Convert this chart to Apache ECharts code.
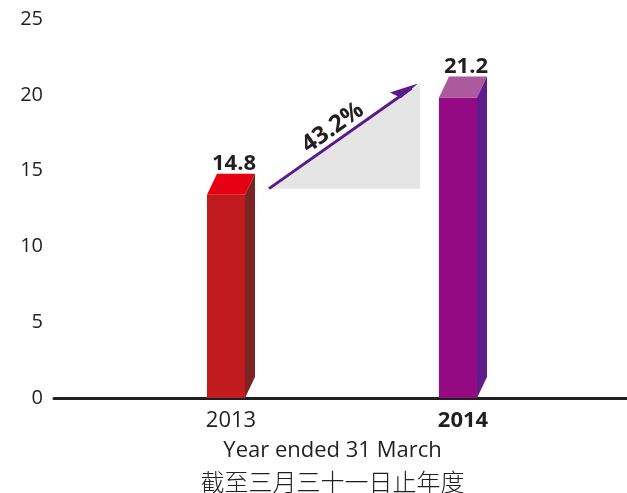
<!DOCTYPE html>
<html>
<head>
<meta charset="utf-8">
<script src="https://cdn.jsdelivr.net/npm/echarts@6/dist/echarts.min.js"></script>
<style>
  html, body { margin: 0; padding: 0; background: #fff; }
  #chart { width: 627px; height: 493px; }
</style>
</head>
<body>
<div id="chart"></div>
<script>
// 数据
const years = [2013, 2014];
const values = [14.8, 21.2];
const yTicks = [0, 5, 10, 15, 20, 25];

// 每根柱子的颜色：正面 / 顶面 / 侧面
const barColors = [
  { front: "#c11b20", top: "#e50012", side: "#7a2523" },
  { front: "#930a82", top: "#ac5a9e", side: "#5f1d8c" }
];

const textColor = "#231f20";
const DX = 10;  // 立体深度（水平）
const DY = 21;  // 立体深度（垂直）

const myChart = echarts.init(document.getElementById("chart"));

function render3DBar(params, api) {
  const i = params.dataIndex;
  const c = barColors[i];
  const top = api.coord([api.value(0), api.value(1)]);
  const base = api.coord([api.value(0), 0]);
  const xl = top[0] - 24;
  const xr = top[0] + 14;
  const ft = top[1] + DY; // 正面顶部
  const y0 = base[1];
  return {
    type: "group",
    children: [
      {
        type: "polygon",
        shape: { points: [[xl, y0], [xr, y0], [xr, ft], [xl, ft]] },
        style: { fill: c.front }
      },
      {
        type: "polygon",
        shape: { points: [[xl, ft], [xr, ft], [xr + DX, ft - DY], [xl + DX, ft - DY]] },
        style: { fill: c.top }
      },
      {
        type: "polygon",
        shape: { points: [[xr, y0], [xr, ft], [xr + DX, ft - DY], [xr + DX, y0 - DY]] },
        style: { fill: c.side }
      },
      {
        type: "text",
        style: {
          text: values[i].toFixed(1),
          x: top[0] + 3,
          y: top[1] - 10,
          align: "center",
          verticalAlign: "middle",
          font: "bold 22px 'Open Sans'",
          fill: textColor
        }
      }
    ]
  };
}

function renderGrowth(params, api) {
  const p0 = api.coord([years[0], values[0]]);
  const p1 = api.coord([years[1], values[1]]);
  const start = [p0[0] + 38, p0[1] + DY - 6];
  const end = [p1[0] - 45, p1[1] + DY - 14];
  const dx = end[0] - start[0];
  const dy = end[1] - start[1];
  const len = Math.sqrt(dx * dx + dy * dy);
  const u = [dx / len, dy / len];
  const n = [u[1], -u[0]];
  const head = [
    end,
    [end[0] - 28 * u[0] + 9 * n[0], end[1] - 28 * u[1] + 9 * n[1]],
    [end[0] - 22 * u[0] - 2 * n[0], end[1] - 22 * u[1] - 2 * n[1]]
  ];
  const mid = [(start[0] + end[0]) / 2, (start[1] + end[1]) / 2];
  const pct = ((values[1] / values[0] - 1) * 100).toFixed(1) + "%";
  return {
    type: "group",
    children: [
      {
        type: "polygon",
        shape: { points: [start, [end[0] + 2, start[1]], [end[0] + 2, end[1]]] },
        style: { fill: "#e5e5e5" }
      },
      {
        type: "line",
        shape: { x1: start[0], y1: start[1], x2: end[0] - 8 * u[0], y2: end[1] - 8 * u[1] },
        style: { stroke: "#5b1a8c", lineWidth: 3 }
      },
      {
        type: "polygon",
        shape: { points: head },
        style: { fill: "#5b1a8c" }
      },
      {
        type: "text",
        x: mid[0] - 4 * u[0] + 1 * n[0],
        y: mid[1] - 4 * u[1] + 1 * n[1],
        rotation: Math.atan2(-dy, dx),
        style: {
          text: pct,
          x: 0,
          y: 0,
          align: "center",
          verticalAlign: "bottom",
          font: "bold 24px 'Open Sans'",
          fill: textColor
        }
      }
    ]
  };
}

const option = {
  animation: false,
  grid: { left: 54, right: 0, top: 19, bottom: 95, outerBoundsMode: "none" },
  xAxis: {
    type: "value",
    min: 2012.237,
    max: 2014.707,
    splitLine: { show: false },
    axisTick: { show: false },
    axisLine: { show: true, lineStyle: { color: textColor, width: 3 } },
    axisLabel: {
      customValues: years,
      margin: 12,
      fontFamily: "Open Sans",
      fontSize: 22,
      color: textColor,
      formatter: function (v) {
        return v === years[1] ? "{b|" + v + "}" : String(v);
      },
      rich: { b: { fontWeight: "bold", fontSize: 22, fontFamily: "Open Sans", color: textColor } }
    },
    name: "{en|Year ended 31 March}\n{zh|截至三月三十一日止年度}",
    nameLocation: "middle",
    nameGap: 37,
    nameTextStyle: {
      padding: [0, 16, 0, 0],
      rich: {
        en: { fontFamily: "Open Sans", fontSize: 22, color: textColor, lineHeight: 31 },
        zh: { fontFamily: "Noto Sans CJK SC", fontSize: 24, fontWeight: 300, color: textColor, lineHeight: 31 }
      }
    }
  },
  yAxis: {
    type: "value",
    min: yTicks[0],
    max: yTicks[yTicks.length - 1],
    interval: 5,
    axisLine: { show: false },
    axisTick: { show: false },
    splitLine: { show: false },
    axisLabel: {
      margin: 11,
      fontFamily: "Open Sans",
      fontSize: 20,
      color: textColor
    }
  },
  series: [
    {
      type: "custom",
      renderItem: renderGrowth,
      data: [[years[0], values[0]]],
      z: 1
    },
    {
      type: "custom",
      renderItem: render3DBar,
      data: years.map((y, i) => [y, values[i]]),
      z: 2
    }
  ]
};

myChart.setOption(option);
</script>
</body>
</html>
